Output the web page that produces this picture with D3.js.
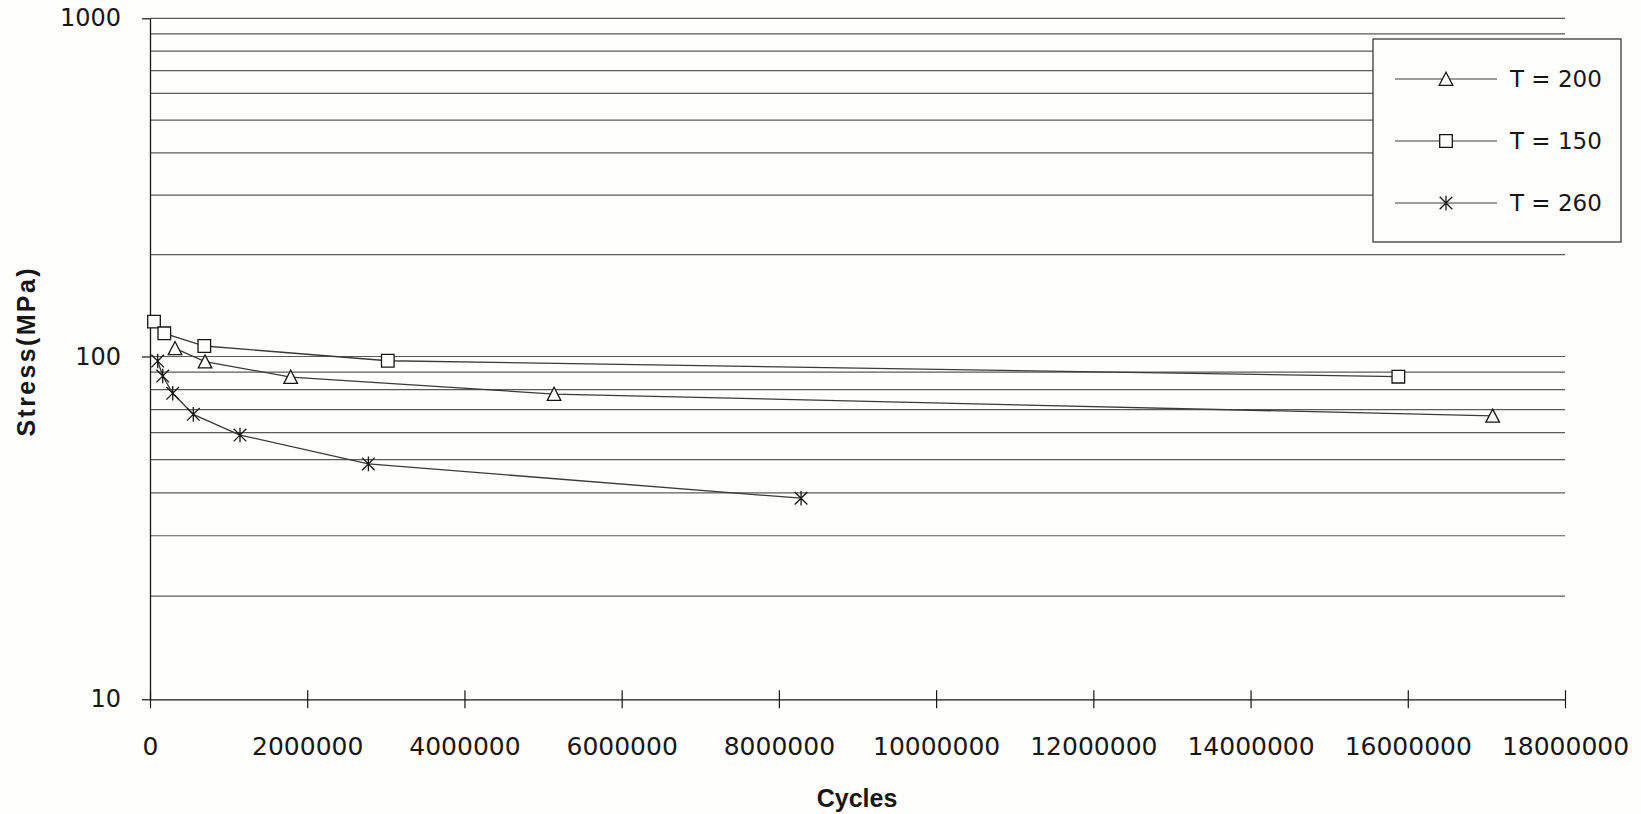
<!DOCTYPE html>
<html>
<head>
<meta charset="utf-8">
<script src="https://cdn.jsdelivr.net/npm/d3@7"></script>
<style>
  body { margin: 0; background: #fefefd; }
  svg { display: block; }
</style>
</head>
<body>
<svg id="chart" width="1641" height="814"></svg>
<script>
// S-N data: fatigue life (cycles) against stress amplitude, three temperatures
const seriesNames = ["T = 200", "T = 150", "T = 260"];
const markerTypes = ["triangle", "square", "star"];

const cyclesT200 = [318000, 700000, 1790000, 5140000, 17080000];
const stressT200 = [105.7, 96.6, 87.1, 77.7, 67.1];

const cyclesT150 = [51000, 182000, 691000, 3025000, 15880000];
const stressT150 = [126.8, 117.1, 107.4, 97.2, 87.3];

const cyclesT260 = [98000, 162000, 289000, 551000, 1145000, 2778000, 8282000];
const stressT260 = [97.0, 87.7, 78.1, 67.8, 59.0, 48.6, 38.6];

const xTickValues = [0, 2000000, 4000000, 6000000, 8000000, 10000000, 12000000, 14000000, 16000000, 18000000];
const yTickValues = [10, 100, 1000];
const gridValues = [20, 30, 40, 50, 60, 70, 80, 90, 100, 200, 300, 400, 500, 600, 700, 800, 900, 1000];

const xTitle = "Cycles";
const yTitle = "Stress(MPa)";

const series = [
  { name: seriesNames[0], marker: markerTypes[0], x: cyclesT200, y: stressT200 },
  { name: seriesNames[1], marker: markerTypes[1], x: cyclesT150, y: stressT150 },
  { name: seriesNames[2], marker: markerTypes[2], x: cyclesT260, y: stressT260 }
];

const svg = d3.select("#chart");
const plot = { left: 150, right: 1565, top: 18.3, bottom: 699.3 };

const x = d3.scaleLinear().domain([0, 18000000]).range([plot.left, plot.right]);
const y = d3.scaleLog().domain([10, 100, 1000]).range([plot.bottom, 356.5, plot.top]);

const ink = "#161616";
const gridInk = "#5a5a5a";

// horizontal gridlines at every minor log step
svg.append("g")
  .selectAll("line")
  .data(gridValues)
  .join("line")
  .attr("x1", plot.left)
  .attr("x2", plot.right)
  .attr("y1", d => y(d))
  .attr("y2", d => y(d))
  .attr("stroke", gridInk)
  .attr("stroke-width", 1.2);

// y axis
const yAxis = svg.append("g")
  .attr("transform", `translate(${plot.left},0)`)
  .call(d3.axisLeft(y).tickValues(yTickValues).tickFormat(d3.format("d")).tickSize(8).tickSizeOuter(0).tickPadding(21));
yAxis.select(".domain").attr("stroke", ink).attr("stroke-width", 1.3);
yAxis.selectAll(".tick line").attr("stroke", ink).attr("stroke-width", 1.2);
yAxis.selectAll(".tick text")
  .attr("fill", ink)
  .style("font-family", "'DejaVu Sans', sans-serif")
  .style("font-size", "24px");

// x axis with ticks crossing the axis line
const xAxis = svg.append("g")
  .attr("transform", `translate(0,${plot.bottom})`)
  .call(d3.axisBottom(x).tickValues(xTickValues).tickFormat(d3.format("d")).tickSize(9).tickSizeOuter(0).tickPadding(29));
xAxis.select(".domain").attr("stroke", ink).attr("stroke-width", 1.2);
xAxis.selectAll(".tick line").attr("y1", -9).attr("stroke", ink).attr("stroke-width", 1.2);
xAxis.selectAll(".tick text")
  .attr("fill", ink)
  .style("font-family", "'DejaVu Sans', sans-serif")
  .style("font-size", "25px");

// axis titles
svg.append("text")
  .attr("x", 857)
  .attr("y", 806.5)
  .attr("text-anchor", "middle")
  .attr("fill", ink)
  .style("font-family", "'Liberation Sans', Arial, sans-serif")
  .style("font-weight", "bold")
  .style("font-size", "25px")
  .text(xTitle);

svg.append("text")
  .attr("transform", "translate(35,352.5) rotate(-90)")
  .attr("text-anchor", "middle")
  .attr("fill", ink)
  .attr("textLength", 168)
  .attr("lengthAdjust", "spacing")
  .style("font-family", "'Liberation Sans', Arial, sans-serif")
  .style("font-weight", "bold")
  .style("font-size", "25px")
  .text(yTitle);

// marker shapes, centred on the origin
function markerPath(type) {
  const s = 6.3;
  if (type === "square") {
    return `M${-s},${-s}H${s}V${s}H${-s}Z`;
  }
  if (type === "triangle") {
    return `M0,${-s - 0.5}L${s + 0.5},${s}L${-s - 0.5},${s}Z`;
  }
  // asterisk: diagonal cross plus vertical stroke
  return `M${-s},${-s}L${s},${s}M${-s},${s}L${s},${-s}M0,${-s - 1}V${s + 1}`;
}

const line = d3.line().x(d => x(d[0])).y(d => y(d[1]));

series.forEach(s => {
  const pts = s.x.map((v, i) => [v, s.y[i]]);
  const g = svg.append("g");
  g.append("path")
    .attr("d", line(pts))
    .attr("fill", "none")
    .attr("stroke", "#3a3a3a")
    .attr("stroke-width", 1.3);
  g.selectAll("path.mk")
    .data(pts)
    .join("path")
    .attr("class", "mk")
    .attr("transform", d => `translate(${x(d[0])},${y(d[1])})`)
    .attr("d", markerPath(s.marker))
    .attr("fill", s.marker === "star" ? "none" : "#fefefd")
    .attr("stroke", ink)
    .attr("stroke-width", 1.3);
});

// legend
const legend = svg.append("g");
legend.append("rect")
  .attr("x", 1373)
  .attr("y", 39)
  .attr("width", 248)
  .attr("height", 203)
  .attr("fill", "#fefefd")
  .attr("stroke", "#3a3a3a")
  .attr("stroke-width", 1.3);

const legendRows = [79, 141, 203];
series.forEach((s, i) => {
  const row = legend.append("g").attr("transform", `translate(0,${legendRows[i]})`);
  row.append("line")
    .attr("x1", 1395).attr("x2", 1497)
    .attr("y1", 0).attr("y2", 0)
    .attr("stroke", "#3a3a3a")
    .attr("stroke-width", 1.2);
  row.append("path")
    .attr("transform", "translate(1446,0)")
    .attr("d", markerPath(s.marker))
    .attr("fill", s.marker === "star" ? "none" : "#fefefd")
    .attr("stroke", ink)
    .attr("stroke-width", 1.3);
  row.append("text")
    .attr("x", 1510)
    .attr("y", 0)
    .attr("dy", "0.36em")
    .attr("fill", ink)
    .style("font-family", "'DejaVu Sans', sans-serif")
    .style("font-size", "23px")
    .text(s.name);
});
</script>
</body>
</html>
